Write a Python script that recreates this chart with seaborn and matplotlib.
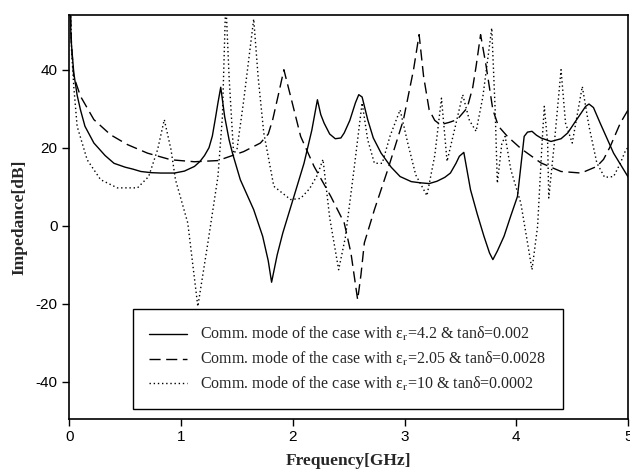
import numpy as np
import pandas as pd
import matplotlib
matplotlib.use("Agg")
import matplotlib.pyplot as plt
import seaborn as sns

# ---- data ----
solid_x = [0.005, 0.015, 0.04, 0.07, 0.10, 0.14, 0.22, 0.32, 0.40, 0.50, 0.57, 0.64, 0.73, 0.82, 0.94, 1.03,
           1.12, 1.17, 1.21, 1.25, 1.28, 1.31, 1.33, 1.355, 1.39, 1.43, 1.46, 1.53, 1.65, 1.73, 1.78, 1.81,
           1.86, 1.91, 2.01, 2.10, 2.17, 2.22, 2.25, 2.28, 2.33, 2.38, 2.43, 2.46, 2.51, 2.56, 2.59, 2.62,
           2.67, 2.72, 2.79, 2.88, 2.96, 3.06, 3.14, 3.22, 3.29, 3.36, 3.41, 3.46, 3.49, 3.53, 3.56, 3.59,
           3.65, 3.71, 3.76, 3.79, 3.83, 3.89, 3.95, 4.01, 4.07, 4.10, 4.14, 4.18, 4.22, 4.31, 4.40, 4.46,
           4.53, 4.58, 4.62, 4.65, 4.69, 4.75, 4.87, 5.00]
solid_y = [60, 48, 39.2, 33.5, 29.7, 25.5, 21.2, 18.0, 16.0, 15.0, 14.5, 13.9, 13.6, 13.5, 13.5, 14.0,
           15.2, 16.5, 18.0, 20.0, 23.0, 28.0, 31.5, 35.5, 28.0, 22.0, 18.6, 11.8, 4.1, -2.7, -9.0, -14.5,
           -7.5, -1.9, 7.5, 16.0, 24.5, 32.3, 28.5, 26.3, 23.5, 22.3, 22.5, 23.8, 27.0, 31.5, 33.6, 33.0,
           27.2, 22.5, 18.6, 15.0, 12.6, 11.3, 11.0, 10.8, 11.4, 12.4, 13.5, 16.0, 17.8, 18.8, 14.0, 9.2,
           3.0, -2.7, -7.0, -8.7, -6.5, -2.7, 2.5, 7.5, 22.9, 24.0, 24.2, 23.2, 22.5, 21.6, 22.3, 23.8,
           26.8, 28.9, 30.6, 31.2, 30.3, 26.3, 18.6, 12.5]

dashed_x = [0.005, 0.02, 0.04, 0.10, 0.22, 0.37, 0.52, 0.70, 0.91, 1.12, 1.33, 1.44, 1.56, 1.71, 1.78,
            1.82, 1.87, 1.92, 1.98, 2.07, 2.19, 2.34, 2.46, 2.52, 2.555, 2.58, 2.61, 2.64, 2.73, 2.85,
            2.99, 3.08, 3.13, 3.17, 3.22, 3.27, 3.32, 3.40, 3.47, 3.56, 3.61, 3.64, 3.68, 3.73, 3.79,
            3.84, 3.92, 4.04, 4.22, 4.40, 4.58, 4.72, 4.78, 4.84, 4.93, 5.00]
dashed_y = [60, 46, 38.3, 33.2, 27.2, 23.3, 20.8, 18.6, 16.9, 16.4, 16.7, 17.8, 19.0, 21.2, 23.5,
            27.2, 33.5, 40.0, 33.2, 22.9, 15.2, 7.5, 0.7, -7.0, -14.0, -19.0, -12.5, -4.4, 4.1, 14.4,
            27.2, 40.0, 49.0, 38.3, 29.7, 27.0, 25.9, 26.5, 27.2, 30.2, 35.5, 40.9, 49.0, 40.9, 29.7,
            25.5, 22.9, 19.8, 16.1, 13.9, 13.5, 15.2, 17.0, 20.3, 26.3, 29.7]

dotted_x = [0.01, 0.02, 0.04, 0.07, 0.16, 0.28, 0.43, 0.61, 0.71, 0.79, 0.85, 0.91, 0.95, 1.06, 1.15,
            1.24, 1.33, 1.37, 1.40, 1.43, 1.47, 1.50, 1.56, 1.65, 1.69, 1.74, 1.83, 1.98, 2.07, 2.15,
            2.22, 2.27, 2.33, 2.41, 2.47, 2.55, 2.62, 2.67, 2.73, 2.80, 2.87, 2.96, 3.03, 3.10, 3.20,
            3.27, 3.33, 3.38, 3.45, 3.52, 3.58, 3.64, 3.70, 3.78, 3.81, 3.83, 3.87, 3.90, 3.95, 4.04,
            4.10, 4.14, 4.19, 4.23, 4.25, 4.28, 4.29, 4.34, 4.40, 4.44, 4.50, 4.59, 4.65, 4.72, 4.79,
            4.87, 4.93, 4.98, 5.00]
dotted_y = [58, 45, 35.7, 25.5, 16.9, 11.8, 9.7, 9.7, 12.6, 19.5, 27.2, 19.5, 11.8, 0.7, -20.7,
            -4.4, 12.6, 28.0, 58.0, 38.0, 18.5, 19.5, 32.0, 53.0, 38.0, 23.8, 10.1, 6.7, 7.0, 9.5,
            13.0, 17.0, 2.0, -11.3, -3.0, 15.0, 31.5, 22.0, 16.0, 16.0, 23.0, 29.7, 21.0, 13.0, 7.7,
            18.0, 32.7, 16.5, 25.0, 33.6, 27.0, 24.2, 33.0, 50.7, 30.0, 10.9, 21.0, 22.9, 14.4, 5.8,
            -4.4, -11.3, -0.2, 21.2, 30.6, 21.2, 7.1, 21.2, 40.0, 26.3, 21.2, 35.7, 25.5, 16.1, 12.4,
            12.6, 16.0, 19.5, 20.0]

labels = [r"Comm. mode of the case with ε$_{\mathrm{r}}$=4.2 & tanδ=0.002",
          r"Comm. mode of the case with ε$_{\mathrm{r}}$=2.05 & tanδ=0.0028",
          r"Comm. mode of the case with ε$_{\mathrm{r}}$=10 & tanδ=0.0002"]
x_ticks = [0, 1, 2, 3, 4, 5]
y_ticks = [-40, -20, 0, 20, 40]

# ---- styling ----
sns.set_style("ticks")
plt.rcParams["font.family"] = ["Liberation Sans", "DejaVu Sans"]
plt.rcParams["axes.unicode_minus"] = False
plt.rcParams["mathtext.fontset"] = "stix"

fig = plt.figure(figsize=(6.3, 4.73), dpi=100)
ax = fig.add_axes([0.110, 0.114, 0.887, 0.854])

series = [(solid_x, solid_y, "-", None),
          (dashed_x, dashed_y, "--", (8, 4)),
          (dotted_x, dotted_y, ":", (1, 2))]
for (xs, ys, ls, dash), lab in zip(series, labels):
    df = pd.DataFrame({"f": xs, "z": ys})
    sns.lineplot(data=df, x="f", y="z", ax=ax, color="black", linewidth=1.0,
                 linestyle=ls, label=lab, sort=False, estimator=None)
    ln = ax.get_lines()[-1]
    if dash is not None:
        ln.set_dashes(dash)

ax.set_xlim(0, 5)
ax.set_ylim(-49.6, 54)
ax.set_xticks(x_ticks)
ax.set_yticks(y_ticks)
ax.tick_params(axis="both", direction="out", length=5, width=1, labelsize=11, colors="black")
ax.tick_params(axis="x", pad=3)
for s in ax.spines.values():
    s.set_visible(True)
    s.set_color("black")
    s.set_linewidth(1.2)

ax.set_xlabel("Frequency[GHz]", fontfamily="Liberation Serif", fontweight="bold", fontsize=12.5, labelpad=6)
ax.set_ylabel("Impedance[dB]", fontfamily="Liberation Serif", fontweight="bold", fontsize=12.5, labelpad=6)

leg = ax.legend(loc="lower left", bbox_to_anchor=(0.114, 0.025, 0.77, 0.247), mode="expand",
                frameon=True, fancybox=False, framealpha=1, edgecolor="black",
                prop={"family": "Liberation Serif", "size": 11.5},
                handlelength=2.4, handletextpad=0.8, borderpad=1.0, labelspacing=0.42,
                borderaxespad=0)
leg.get_frame().set_linewidth(1.0)

fig.savefig("out.png", dpi=100, facecolor="white")
